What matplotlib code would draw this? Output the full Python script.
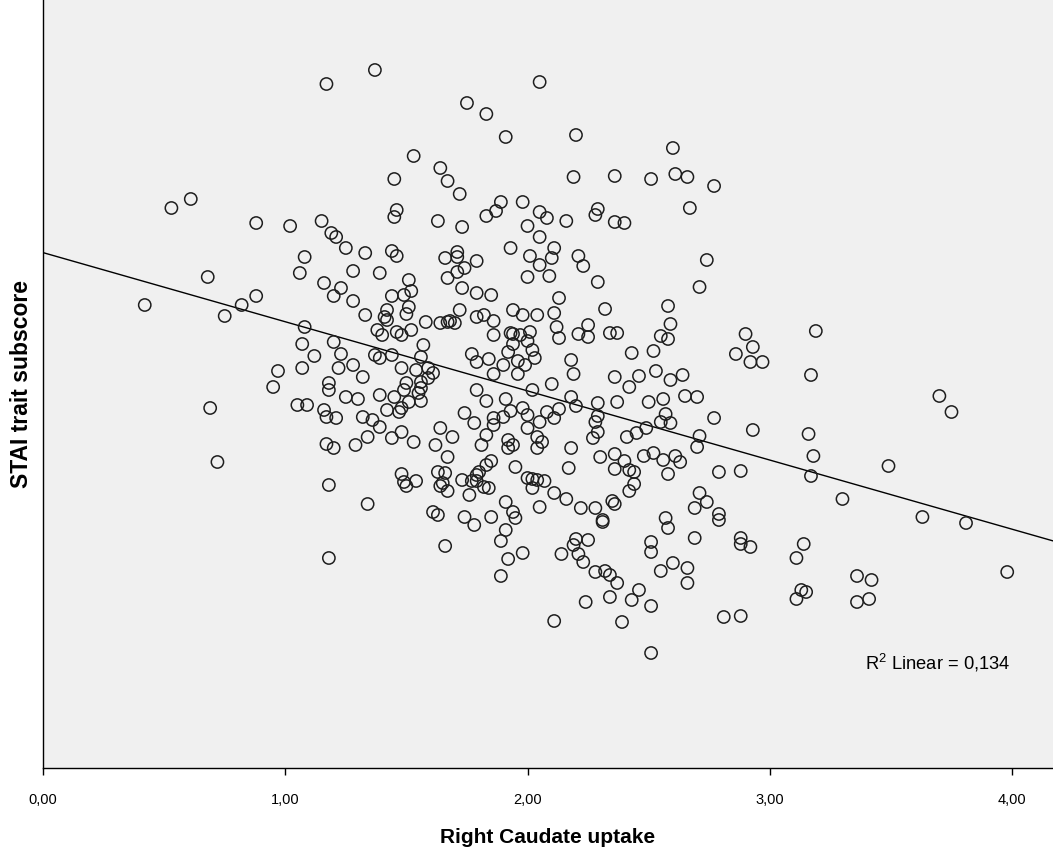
import matplotlib

matplotlib.use("Agg")
import matplotlib.pyplot as plt
import numpy as np
from matplotlib.ticker import FuncFormatter

plt.rcParams["font.family"] = ["Liberation Sans", "DejaVu Sans"]
plt.rcParams["mathtext.fontset"] = "custom"
plt.rcParams["mathtext.rm"] = "Liberation Sans"

# Right caudate uptake (x) and STAI trait subscore (y)
uptake = [
    1.17, 0.53, 0.61, 0.88, 1.02, 1.15, 1.19, 1.21, 1.25, 1.08,
    1.37, 2.05, 1.75, 1.83, 1.91, 1.53, 1.64, 1.67, 1.72, 1.45,
    1.46, 1.45, 1.63, 1.73, 1.83, 1.87, 1.89, 1.98, 2.05, 2.08,
    2.00, 2.05, 2.11, 2.01, 1.93, 1.33, 1.44, 1.46, 1.66, 1.71,
    1.71, 1.79, 2.20, 2.60, 2.19, 2.36, 2.51, 2.61, 2.66, 2.77,
    2.67, 2.29, 2.28, 2.16, 2.36, 2.40, 2.21, 2.74,
    1.06, 0.68, 1.16, 1.23, 1.20, 0.42, 0.88, 0.82, 0.75, 1.08,
    1.07, 1.12, 1.20, 1.23, 1.07, 1.22, 0.97, 0.95, 1.18, 1.18,
    1.25, 1.05, 1.09, 1.16, 1.17, 1.21, 0.69, 1.17, 1.20, 0.72,
    1.74, 1.71, 1.67, 1.28, 1.39, 1.51, 1.52, 1.49, 1.44, 1.28,
    1.73, 1.79, 1.85, 2.00, 2.05, 2.09, 1.33, 1.42, 1.41, 1.42,
    1.50, 1.51, 1.58, 1.64, 1.67, 1.68, 1.70, 1.72, 1.79, 1.82,
    1.86, 1.94, 1.98, 2.04, 2.11, 1.38, 1.40, 1.46, 1.48, 1.52,
    1.86, 1.93, 1.94, 1.97, 2.01, 2.12, 1.57, 1.94, 2.00, 2.02,
    1.92, 1.77, 1.79, 1.84, 1.90, 1.96, 1.99, 2.03, 1.56, 1.37,
    1.39, 1.44, 1.48, 1.54, 1.59, 1.61, 1.28, 1.32, 1.86, 1.96,
    2.10, 1.50, 1.56, 1.59, 1.49, 1.56, 1.55, 1.30, 1.39, 1.45,
    1.79, 1.83, 1.91, 2.02, 1.51, 1.56, 1.42, 1.48, 1.47, 1.32,
    1.36, 1.39, 1.74, 1.78, 1.86, 1.90, 1.93, 1.98, 2.00, 2.05,
    2.08, 2.11, 1.64, 1.69, 1.48, 1.44, 1.53, 1.34, 1.29, 1.62,
    1.83, 1.86, 2.00, 2.04, 2.06, 1.92, 1.94, 1.92, 1.81, 1.67,
    2.04,
    2.23, 2.10, 2.29, 2.71, 2.13, 2.32, 2.58, 2.13, 2.21, 2.25,
    2.25, 2.34, 2.37, 2.59, 2.55, 2.58, 2.43, 2.52, 2.18, 2.19,
    2.90, 2.93, 2.86, 2.92, 2.97, 2.36, 2.46, 2.53, 2.64, 2.59,
    2.42, 2.18, 2.20, 2.29, 2.37, 2.50, 2.56, 2.65, 2.70, 2.77,
    2.93, 2.57, 2.55, 2.59, 2.49, 2.45, 2.41, 2.29, 2.28, 2.29,
    2.27, 2.13, 2.71, 2.70, 2.18, 2.30, 2.36, 2.40, 2.48, 2.52,
    2.56, 2.61, 2.63,
    3.19, 3.17, 3.70, 3.75, 3.16, 3.18,
    3.17, 3.49, 3.30, 3.63, 3.81, 3.14, 3.11, 3.36, 3.42, 3.13,
    3.15, 3.11, 3.36, 3.41, 3.98,
    2.17, 2.36, 2.42, 2.44, 2.58, 2.79, 2.88, 2.44, 2.42, 2.11,
    2.16, 2.22, 2.28, 2.35, 2.36, 2.31, 2.31, 2.71, 2.74, 2.69,
    2.79, 2.79, 2.57, 2.58, 2.69, 2.51, 2.51, 2.88, 2.88, 2.92,
    2.20, 2.25, 2.19, 2.14, 2.21, 2.23, 2.28, 2.32, 2.34, 2.37,
    2.60, 2.55, 2.66, 2.66, 2.46, 2.43, 2.34, 2.51, 2.24, 2.11,
    2.39, 2.81, 2.88, 2.51,
    1.85, 1.83, 1.95, 1.48, 1.49, 1.50, 1.54, 1.63, 1.66, 1.64,
    1.65, 1.67, 1.73, 1.77, 1.79, 1.80, 1.79, 1.82, 1.84, 1.76,
    2.00, 2.02, 2.04, 2.07, 2.02, 1.34, 1.91, 1.94, 1.95, 2.05,
    1.61, 1.63, 1.74, 1.78, 1.85, 1.91, 1.89, 1.66, 1.98, 1.92,
    1.89,
    1.18, 1.18,
]

stai = [
    68.4, 56.0, 56.9, 54.5, 54.2, 54.7, 53.5, 53.1, 52.0, 51.1,
    69.8, 68.6, 66.5, 65.4, 63.1, 61.2, 60.0, 58.7, 57.4, 58.9,
    55.8, 55.1, 54.7, 54.1, 55.2, 55.7, 56.6, 56.6, 55.6, 55.0,
    54.2, 53.1, 52.0, 51.2, 52.0, 51.5, 51.7, 51.2, 51.0, 51.6,
    51.1, 50.7, 63.3, 62.0, 59.1, 59.2, 58.9, 59.4, 59.1, 58.2,
    56.0, 55.9, 55.3, 54.7, 54.6, 54.5, 51.2, 50.8,
    49.5, 49.1, 48.5, 48.0, 47.2, 46.3, 47.2, 46.3, 45.2, 44.1,
    42.4, 41.2, 42.6, 41.4, 40.0, 40.0, 39.7, 38.1, 38.5, 37.8,
    37.1, 36.3, 36.3, 35.8, 35.1, 35.0, 36.0, 32.4, 32.0, 30.6,
    50.0, 49.6, 49.0, 49.7, 49.5, 48.8, 47.7, 47.3, 47.2, 46.7,
    48.0, 47.5, 47.3, 49.1, 50.3, 49.2, 45.3, 45.8, 45.1, 44.8,
    45.4, 46.1, 44.6, 44.5, 44.6, 44.7, 44.5, 45.8, 45.1, 45.3,
    44.7, 45.8, 45.3, 45.3, 45.5, 43.8, 43.3, 43.6, 43.3, 43.8,
    43.3, 43.5, 43.4, 43.3, 43.6, 44.1, 42.3, 42.4, 42.7, 41.8,
    41.6, 41.4, 40.6, 40.9, 40.3, 40.7, 40.3, 41.0, 41.1, 41.3,
    41.0, 41.3, 40.0, 39.8, 40.0, 39.5, 40.3, 39.1, 39.4, 39.4,
    38.4, 38.5, 38.6, 39.0, 37.8, 38.0, 37.5, 36.9, 37.3, 37.1,
    37.8, 36.7, 36.9, 37.8, 36.6, 36.7, 35.8, 36.0, 35.6, 35.1,
    34.8, 34.1, 35.5, 34.5, 35.0, 35.1, 35.7, 36.0, 35.3, 34.6,
    35.6, 35.0, 34.0, 33.1, 33.6, 33.0, 32.6, 33.1, 32.3, 32.3,
    33.3, 34.3, 34.0, 33.1, 32.6, 32.8, 32.3, 32.0, 32.3, 31.1,
    32.0,
    50.2, 51.0, 48.6, 48.1, 47.0, 45.9, 46.2, 43.0, 43.4, 44.3,
    43.1, 43.5, 43.5, 44.4, 43.2, 42.9, 41.5, 41.7, 40.8, 39.4,
    43.4, 42.1, 41.4, 40.6, 40.6, 39.1, 39.2, 39.7, 39.3, 38.8,
    38.1, 37.1, 36.2, 36.5, 36.6, 36.6, 36.9, 37.2, 37.1, 35.0,
    33.8, 35.4, 34.6, 34.5, 34.0, 33.5, 33.1, 35.2, 34.6, 33.6,
    33.0, 35.9, 33.2, 32.1, 32.0, 31.1, 31.4, 30.7, 31.2, 31.5,
    30.8, 31.2, 30.6,
    43.7, 39.3, 37.2, 35.6, 33.4, 31.2,
    29.2, 30.2, 26.9, 25.1, 24.5, 22.4, 21.0, 19.2, 18.8, 17.8,
    17.6, 16.9, 16.6, 16.9, 19.6,
    30.0, 29.9, 29.8, 29.6, 29.4, 29.6, 29.7, 28.4, 27.7, 27.5,
    26.9, 26.0, 26.0, 26.7, 26.4, 24.8, 24.6, 27.5, 26.6, 26.0,
    25.4, 24.8, 25.0, 24.0, 23.0, 22.6, 21.6, 23.0, 22.4, 22.1,
    22.9, 22.8, 22.3, 21.4, 21.4, 20.6, 19.6, 19.7, 19.3, 18.5,
    20.5, 19.7, 20.0, 18.5, 17.8, 16.8, 17.1, 16.2, 16.6, 14.7,
    14.6, 15.1, 15.2, 11.5,
    30.7, 30.3, 30.1, 29.4, 28.6, 28.2, 28.7, 29.6, 29.5, 28.2,
    28.5, 27.7, 28.8, 28.7, 29.3, 29.6, 28.7, 28.1, 28.0, 27.3,
    29.0, 28.9, 28.8, 28.7, 28.0, 26.4, 26.6, 25.6, 25.0, 26.1,
    25.6, 25.3, 25.1, 24.3, 25.1, 23.8, 22.7, 22.2, 21.5, 20.9,
    19.2,
    28.3, 21.0,
]

r2_label = r"R$^2$ Linear = 0,134"
x_ticks = [0, 1, 2, 3, 4]

x = np.array(uptake)
y = np.array(stai)
slope, intercept = np.polyfit(x, y, 1)

fig = plt.figure(figsize=(10.53, 8.55), dpi=100)
ax = fig.add_axes([43 / 1053, 87 / 855, 1010 / 1053, 768 / 855])
ax.set_facecolor("#f0f0f0")

xmax = 4.169
ax.set_xlim(0, xmax)
ax.set_ylim(0, 76.8)

ax.scatter(x, y, s=78, facecolors="none", edgecolors="#1e1e1e", linewidths=1.1, zorder=3)
fit_x = np.array([0, xmax])
ax.plot(fit_x, intercept + slope * fit_x, color="black", lw=1.0, zorder=2)

ax.text(0.814, 0.137, r2_label, transform=ax.transAxes, fontsize=13.2,
        ha="left", va="center")

ax.set_xticks(x_ticks)
ax.xaxis.set_major_formatter(FuncFormatter(lambda v, p: f"{v:.2f}".replace(".", ",")))
ax.tick_params(axis="x", direction="out", length=5, width=1, labelsize=10.5, pad=13)
ax.set_yticks([])
for side in ("top", "right"):
    ax.spines[side].set_visible(False)
for side in ("left", "bottom"):
    ax.spines[side].set_linewidth(1.0)
    ax.spines[side].set_color("black")

ax.set_xlabel("Right Caudate uptake", fontsize=15, fontweight="bold", labelpad=15)
ax.set_ylabel("STAI trait subscore", fontsize=16.5, fontweight="bold", labelpad=7)

fig.savefig("out.png", dpi=100)
